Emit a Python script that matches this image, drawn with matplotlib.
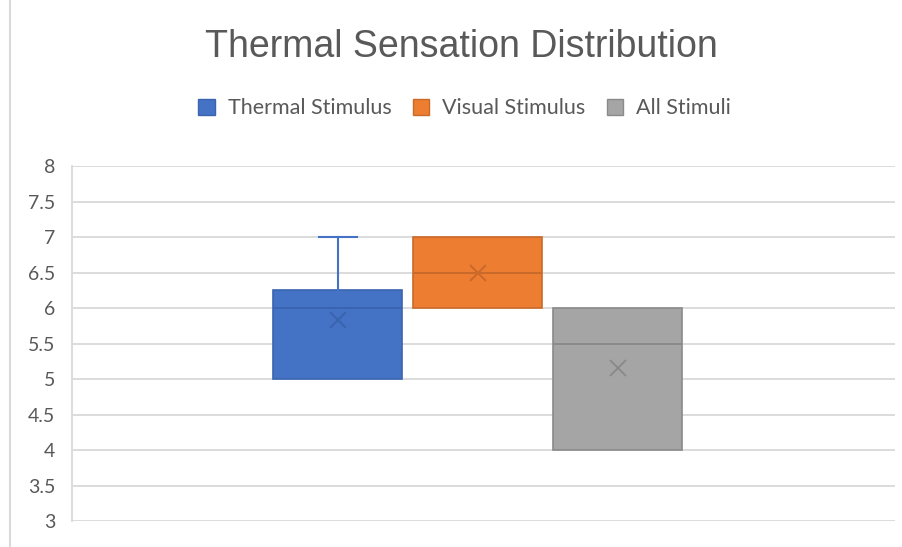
import matplotlib
matplotlib.use("Agg")
import matplotlib.pyplot as plt
from matplotlib.patches import Patch
from matplotlib.lines import Line2D

# dados (box & whisker do Excel)
series = ["Thermal Stimulus", "Visual Stimulus", "All Stimuli"]
q1 = [5, 6, 4]
mediana = [6, 6.5, 5.5]
q3 = [6.25, 7, 6]
minimo = [5, 6, 4]
maximo = [7, 7, 6]
media = [5.83, 6.5, 5.15]

cores = ["#4472C4", "#ED7D31", "#A5A5A5"]
bordas = ["#3A64B0", "#C9692A", "#8A8A8A"]
texto = "#595959"

plt.rcParams["font.family"] = ["Lato", "DejaVu Sans"]

fig = plt.figure(figsize=(9.02, 5.47), dpi=100)
ax = fig.add_axes([0.0798, 0.0475, 0.9122, 0.649])

posicoes = [-1, 0, 1]
for i in range(3):
    stats = [dict(med=mediana[i], q1=q1[i], q3=q3[i], whislo=minimo[i],
                  whishi=maximo[i], mean=media[i])]
    art = ax.bxp(stats, positions=[posicoes[i]], widths=0.92, patch_artist=True,
                 showmeans=True, showfliers=False, capwidths=0.27,
                 boxprops=dict(facecolor=cores[i], edgecolor=bordas[i], linewidth=1.2),
                 medianprops=dict(color=bordas[i], linewidth=1.4),
                 whiskerprops=dict(color=cores[i], linewidth=1.5),
                 capprops=dict(color=cores[i], linewidth=1.5),
                 meanprops=dict(marker="x", markeredgecolor=bordas[i], markersize=11,
                                markeredgewidth=1.4),
                 zorder=3)
    # sem bigode quando o extremo coincide com o quartil
    if minimo[i] == q1[i]:
        art["caps"][0].set_visible(False)
        art["whiskers"][0].set_visible(False)
    if maximo[i] == q3[i]:
        art["caps"][1].set_visible(False)
        art["whiskers"][1].set_visible(False)

ax.set_xlim(-2.9, 2.98)
ax.set_ylim(3, 8)
ax.set_yticks([3, 3.5, 4, 4.5, 5, 5.5, 6, 6.5, 7, 7.5, 8])
ax.set_yticklabels(["3", "3.5", "4", "4.5", "5", "5.5", "6", "6.5", "7", "7.5", "8"])
ax.set_xticks([])
ax.tick_params(axis="y", length=0, pad=12, labelsize=14, labelcolor=texto)
ax.grid(axis="y", color="#D9D9D9", linewidth=1.3, zorder=0)
for lado in ["top", "right", "bottom"]:
    ax.spines[lado].set_visible(False)
ax.spines["left"].set_color("#D9D9D9")
ax.spines["left"].set_linewidth(1.3)

fig.text(0.511, 0.914, "Thermal Sensation Distribution", ha="center", va="center",
         fontsize=27, color=texto, family="Liberation Sans")

handles = [Patch(facecolor=cores[i], edgecolor=bordas[i], label=series[i]) for i in range(3)]
fig.legend(handles=handles, loc="center", bbox_to_anchor=(0.515, 0.802), ncol=3,
           frameon=False, fontsize=15.5, labelcolor=texto, handlelength=0.75,
           handleheight=0.75, handletextpad=0.6, columnspacing=1.0)

# borda lateral da imagem original
fig.add_artist(Line2D([0.0115, 0.0115], [0, 1], color="#D9D9D9", linewidth=1.5,
                      transform=fig.transFigure))

fig.savefig("out.png", dpi=100)
